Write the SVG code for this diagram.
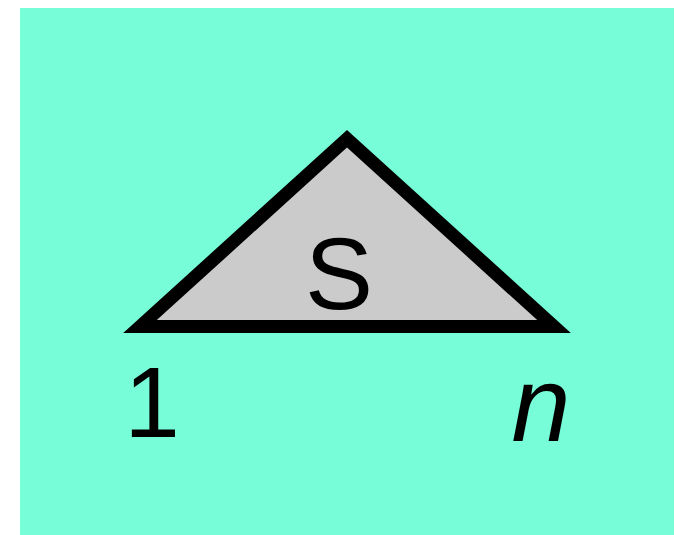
<svg xmlns="http://www.w3.org/2000/svg" width="676" height="535" viewBox="0 0 676 535">
<style>
.lbl{font-family:"Liberation Sans",Arial,sans-serif;fill:#000}
</style>
<rect width="676" height="535" fill="#ffffff"/>
<rect id="bg" x="20" y="8" width="654" height="527" fill="#77fdd7"/>
<g id="node-S">
<polygon points="140,326.5 347,138.8 554,326.5" fill="#cbcbcb" stroke="#000" stroke-width="13" stroke-linejoin="miter"/>
<text class="lbl" x="339" y="309" font-size="102" text-anchor="middle">S</text>
</g>
<g id="label-1"><text class="lbl" x="152" y="437" font-size="100" text-anchor="middle">1</text></g>
<g id="label-n"><text class="lbl" x="541" y="441" font-size="106" font-style="italic" text-anchor="middle">n</text></g>
<g id="connectors"></g>
</svg>
